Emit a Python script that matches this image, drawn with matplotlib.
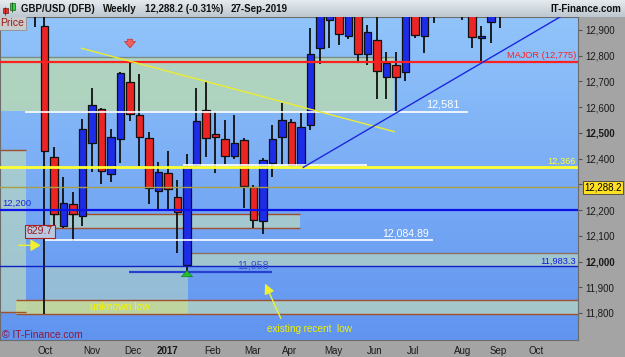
import matplotlib
matplotlib.use("Agg")
import matplotlib.pyplot as plt
import matplotlib.transforms as mtransforms
import numpy as np
from matplotlib.patches import Rectangle

plt.rcParams["font.family"] = ["Liberation Sans", "DejaVu Sans"]

# weekly GBP/USD (DFB points), first candle = w/c 26-Sep-2016
opens = [13000, 12915, 12405, 12139, 12222, 12176, 12462, 12593, 12341, 12475,
         12697, 12570, 12479, 12274, 12343, 12252, 11985, 12375, 12589, 12495,
         12475, 12409, 12471, 12289, 12158, 12384, 12483, 12544, 12375, 12531,
         12829, 12940, 13000, 12878, 12990, 12807, 12860, 12718, 12764, 12738,
         13010, 12878, 13050, 13100, 13150, 13050, 13010, 12868, 12932, 13000]
highs = [13060, 12990, 12444, 12330, 12270, 12555, 12675, 12598, 12514, 12738,
         12774, 12728, 12504, 12387, 12430, 12317, 12417, 12676, 12703, 12582,
         12550, 12570, 12479, 12298, 12401, 12531, 12615, 12554, 12576, 12906,
         13000, 13020, 13050, 13000, 13020, 12919, 12960, 12816, 12816, 13050,
         13050, 13050, 13100, 13200, 13250, 13100, 13050, 12916, 13000, 13050]
lows = [12912, 11795, 12085, 12132, 12080, 12139, 12349, 12300, 12310, 12382,
        12546, 12373, 12222, 12200, 12200, 12032, 11958, 12369, 12408, 12343,
        12379, 12399, 12209, 12129, 12106, 12330, 12375, 12369, 12366, 12511,
        12767, 12829, 12842, 12864, 12777, 12764, 12632, 12632, 12581, 12702,
        12868, 12809, 12928, 12990, 13000, 12940, 12831, 12773, 12851, 12907]
closes = [12960, 12431, 12184, 12229, 12185, 12516, 12608, 12351, 12485, 12732,
          12573, 12484, 12285, 12347, 12281, 12194, 12373, 12547, 12479, 12484,
          12409, 12461, 12294, 12161, 12395, 12476, 12551, 12375, 12522, 12807,
          12980, 12990, 12883, 12990, 12807, 12891, 12742, 12771, 12716, 13000,
          12881, 13000, 13000, 13050, 13100, 13000, 12874, 12877, 12980, 13020]

month_labels = ["Oct", "Nov", "Dec", "2017", "Feb", "Mar", "Apr", "May",
                "Jun", "Jul", "Aug", "Sep", "Oct"]
month_pos = [1.05, 6.0, 10.3, 13.9, 18.7, 22.9, 26.8, 31.4, 35.8, 39.8, 45.0, 48.8, 52.7]
price_ticks = list(range(11800, 13000, 100))

major_level = 12775
level_12366 = 12366
last_price = 12288.2
level_12200 = 12200
level_11983 = 11983.3
level_12581 = 12581
level_12084 = 12084.89
low_11958 = 11958

XMIN, XMAX = -3.684, 57.16
YMIN, YMAX = 11695, 12950.5

fig = plt.figure(figsize=(6.25, 3.57), dpi=100, facecolor="#a4a4a4")
ax = fig.add_axes([0, 17 / 357, 578 / 625, 323 / 357])
ax.set_xlim(XMIN, XMAX)
ax.set_ylim(YMIN, YMAX)

# background gradient
grad = np.linspace(0, 1, 256).reshape(-1, 1)
top = np.array([0.57, 0.77, 0.98])
bot = np.array([0.38, 0.58, 0.94])
img = (top * (1 - grad)[..., None] + bot * grad[..., None]).reshape(256, 1, 3)
ax.imshow(img, extent=[XMIN, XMAX, YMIN, YMAX], aspect="auto", zorder=0, origin="upper")

# zones
brown = "#a0502a"
ax.add_patch(Rectangle((XMIN, 12585), 37.8 - XMIN, 12795 - 12585, facecolor="#b6d8b6",
                       alpha=0.85, edgecolor="none", zorder=1))
ax.hlines(12795, XMIN, 37.8, color="#7c8c84", lw=1, zorder=1.5)
ax.add_patch(Rectangle((XMIN, 11805), -0.95 - XMIN, 12434 - 11805, facecolor="#b4d4c4",
                       alpha=0.75, edgecolor="none", zorder=1))
ax.hlines([12434, 11805], XMIN, -0.95, color=brown, lw=1, zorder=1.5)
ax.add_patch(Rectangle((1.58, 12129), 27.9 - 1.58, 12184 - 12129, facecolor="#b4d4c4",
                       alpha=0.75, edgecolor="none", zorder=1))
ax.hlines([12184, 12129], 1.58, 27.9, color=brown, lw=1, zorder=1.5)
ax.add_patch(Rectangle((16.1, 11983), XMAX - 16.1, 12035 - 11983, facecolor="#b4d4c4",
                       alpha=0.75, edgecolor="none", zorder=1))
ax.hlines(12035, 16.1, XMAX, color="#8a7060", lw=1, zorder=1.5)
ax.add_patch(Rectangle((1.05, 11796), 16.1 - 1.05, 11983 - 11796, facecolor="#b4d4c4",
                       alpha=0.6, edgecolor="none", zorder=1))
ax.add_patch(Rectangle((-2.0, 11796), XMAX + 2.0, 11850 - 11796, facecolor="#b4d4c4",
                       alpha=0.8, edgecolor="none", zorder=1))
ax.add_patch(Rectangle((-2.0, 11796), 16.1 + 2.0, 11850 - 11796, facecolor="#c8d890",
                       alpha=0.7, edgecolor="none", zorder=1.2))
ax.hlines([11850, 11796], -2.0, XMAX, color=brown, lw=1, zorder=1.5)

# candles
idx = np.arange(len(opens))
o = np.array(opens)
c = np.array(closes)
colors = np.where(c >= o, "#1c2ce8", "#ec2424")
ax.vlines(idx, lows, highs, color="#101010", lw=1.3, zorder=4)
ax.bar(idx, np.abs(c - o), bottom=np.minimum(o, c), width=0.78, color=colors,
       edgecolor="#101010", linewidth=0.9, zorder=5)

# levels
ax.axhline(major_level, color="#ff2020", lw=1.6, zorder=6)
ax.axhline(level_12366, color="#ffff30", lw=2, zorder=6)
ax.axhline(last_price, color="#a8a048", lw=1, zorder=6)
ax.axhline(level_12200, color="#0a14e8", lw=1.6, zorder=6)
ax.axhline(level_11983, color="#1020c0", lw=1, zorder=6)
ax.hlines(level_12581, -1.05, 45.6, color="white", lw=1.2, zorder=6)
ax.hlines(level_12084, 1.05, 41.9, color="white", lw=1.2, zorder=6)
ax.hlines(12377, 15.6, 34.9, color="white", lw=1.2, zorder=6)
ax.hlines(low_11958, 9.9, 24.9, color="#2840d0", lw=1.6, zorder=6)

# trendlines
ax.plot([4.9, 37.8], [12829, 12505], color="#ecec30", lw=1, zorder=6)
ax.plot([28.24, 57.0], [12366, 12988], color="#1a28e0", lw=1, zorder=6)

# arrows
ax.annotate("", xy=(10, 12820), xytext=(10, 12875), zorder=7,
            arrowprops=dict(arrowstyle="simple,head_width=0.8,head_length=0.45,tail_width=0.35",
                            fc="#f06060", ec="#c03030", lw=0.5))
ax.annotate("", xy=(16, 11976), xytext=(16, 11932), zorder=7,
            arrowprops=dict(arrowstyle="simple,head_width=0.8,head_length=0.45,tail_width=0.35",
                            fc="#20c030", ec="#108020", lw=0.5))
ax.annotate("", xy=(0.9, 12063), xytext=(-2.0, 12063), zorder=7,
            arrowprops=dict(arrowstyle="-|>,head_width=0.35,head_length=0.6",
                            color="#f0f030", lw=1))
ax.annotate("", xy=(24.1, 11924), xytext=(26.0, 11769), zorder=7,
            arrowprops=dict(arrowstyle="-|>,head_width=0.3,head_length=0.6",
                            color="#f0f030", lw=1))

# labels
ax.text(57.0, 12799, "MAJOR (12,775)", color="#ff2020", fontsize=6.7, ha="right", va="center", zorder=8)
ax.text(42.95, 12612, "12,581", color="white", fontsize=7.8, ha="center", va="center", zorder=8)
ax.text(56.95, 12389, "12,366", color="#ffff30", fontsize=6.7, ha="right", va="center", zorder=8)
ax.text(-3.47, 12226, "12,200", color="#1828d8", fontsize=6.8, ha="left", va="center", zorder=8)
ax.text(0.53, 12117, "629.7", color="#a01818", fontsize=7.5, ha="center", va="center", zorder=8,
        bbox=dict(boxstyle="square,pad=0.15", fc="#b8c8e0", ec="#b02020", lw=0.8))
ax.text(39.05, 12109, "12,084.89", color="white", fontsize=7.6, ha="center", va="center", zorder=8)
ax.text(22.95, 11983, "11,958", color="#3c50d0", fontsize=7.6, ha="center", va="center", zorder=8)
ax.text(56.95, 12000, "11,983.3", color="#1020e0", fontsize=6.7, ha="right", va="center", zorder=8)
ax.text(8.95, 11823, "unknown low", color="#f4f400", fontsize=7.5, ha="center", va="center", zorder=8)
ax.text(24.42, 11738, "existing recent  low", color="#f0f000", fontsize=7.2, ha="left", va="center", zorder=8)
ax.text(-3.5, 11714, "© IT-Finance.com", color="#901838", fontsize=7.4, ha="left", va="center", zorder=8)
ax.text(0.0, 1 - 6 / 323, "Price", transform=ax.transAxes, color="#a01818", fontsize=7.5,
        ha="left", va="center", zorder=8,
        bbox=dict(boxstyle="square,pad=0.2", fc="#c8cccc", ec="#909090", lw=0.6))

# axes styling
ax.yaxis.tick_right()
ax.set_yticks(price_ticks)
ax.set_yticklabels([f"{t:,}" for t in price_ticks])
for lab, t in zip(ax.get_yticklabels(), price_ticks):
    if t in (12000, 12500):
        lab.set_fontweight("bold")
ax.set_xticks(month_pos)
ax.set_xticklabels(month_labels)
for lab in ax.get_xticklabels():
    if lab.get_text() == "2017":
        lab.set_fontweight("bold")
ax.tick_params(axis="y", labelsize=7, colors="#555555", labelcolor="#1a1a1a", length=3, pad=2)
ax.tick_params(axis="x", labelsize=7, labelcolor="#1a1a1a", length=0, pad=4)
for s in ax.spines.values():
    s.set_color("#6c6c6c")
    s.set_linewidth(0.8)

trans = mtransforms.blended_transform_factory(ax.transAxes, ax.transData)
ax.text(1.0 + 6 / 578, last_price, "12,288.2", transform=trans, fontsize=7, color="black",
        ha="left", va="center", clip_on=False, zorder=9,
        bbox=dict(boxstyle="square,pad=0.15", fc="#ffe020", ec="#404040", lw=0.6))

# header bar
hax = fig.add_axes([0, 340 / 357, 1, 17 / 357])
hax.set_xlim(0, 625)
hax.set_ylim(17, 0)
hgrad = np.linspace(0, 1, 64).reshape(-1, 1)
htop = np.array([0.90, 0.92, 0.94])
hbot = np.array([0.74, 0.78, 0.81])
himg = (htop * (1 - hgrad)[..., None] + hbot * hgrad[..., None]).reshape(64, 1, 3)
hax.imshow(himg, extent=[0, 625, 17, 0], aspect="auto")
hax.axis("off")
hax.add_patch(Rectangle((3, 8), 4.5, 5, fc="#ec3030", ec="#602020", lw=0.5))
hax.vlines(5.25, 6.5, 14.5, color="#602020", lw=0.6)
hax.add_patch(Rectangle((10, 3), 4.5, 7, fc="#30d040", ec="#206020", lw=0.5))
hax.vlines(12.25, 1.5, 12, color="#206020", lw=0.6)
for xpos, txt in [(21, "GBP/USD (DFB)"), (103, "Weekly"), (145, "12,288.2 (-0.31%)"), (231, "27-Sep-2019")]:
    hax.text(xpos, 8.5, txt, fontsize=7, fontweight="bold", color="#101010", ha="left", va="center")
hax.text(621, 8.5, "IT-Finance.com", fontsize=7, fontweight="bold", color="#101010", ha="right", va="center")

fig.savefig("out.png", dpi=100, facecolor=fig.get_facecolor())
